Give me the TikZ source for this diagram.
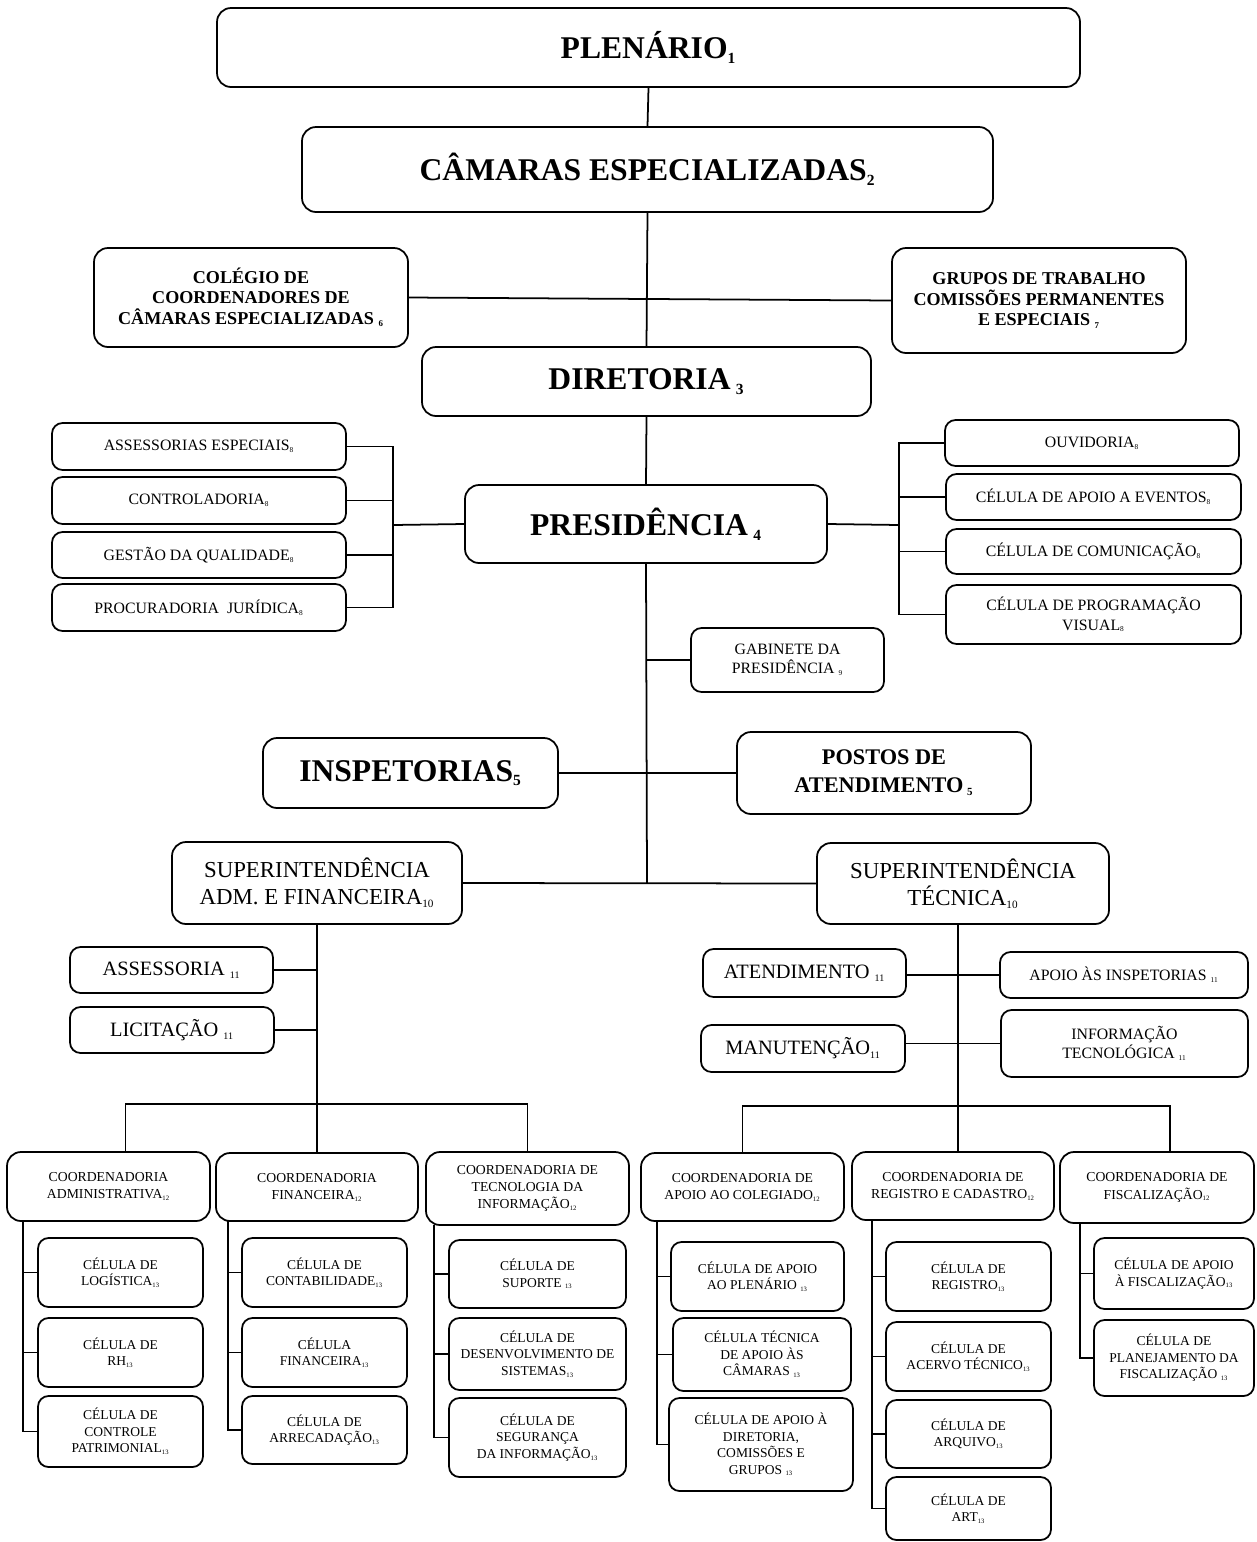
\documentclass[tikz,border=0pt]{standalone}
\usepackage{fontspec}
\setmainfont{Liberation Serif}
\usetikzlibrary{calc}

\newcommand{\nr}[1]{\textsubscript{\scalebox{0.7}{#1}}}
\newcommand{\drawCaixa}[5]{
	\path let
		\p1 = (#3), \p2 = (#4)
		in
		node[#2, minimum width={\x2-\x1}, minimum height={\y1-\y2}] (#1)
			at ({(\x1+\x2)/2}, {(\y1+\y2)/2}) {#5};
}
\newcommand{\drawRamo}[2]{
	\draw[linha] (#1) -- (#1 -| #2);
}

\tikzset{
	caixa/.style={draw, line width=1pt, rounded corners=6pt, inner sep=0pt, align=center},
	grande/.style={caixa, rounded corners=8pt, font=\bfseries\fontsize{18}{21}\selectfont},
	media/.style={caixa, rounded corners=8pt, font=\bfseries\fontsize{10.3}{11.5}\selectfont},
	destaque/.style={caixa, rounded corners=8pt, font=\bfseries\fontsize{12.7}{16}\selectfont},
	superint/.style={caixa, rounded corners=8pt, font=\fontsize{13}{15.5}\selectfont},
	secao/.style={caixa, font=\fontsize{11.6}{13}\selectfont},
	pequena/.style={caixa, font=\fontsize{9}{11}\selectfont},
	coord/.style={caixa, rounded corners=8pt, font=\fontsize{7.8}{9.8}\selectfont},
	celula/.style={caixa, font=\fontsize{7.7}{9.4}\selectfont},
	linha/.style={line width=1pt},
}

\begin{document}
\begin{tikzpicture}[x=0.02cm, y=-0.02cm]
	\useasboundingbox (0,0) rectangle (1257,1542);

	% topo
	\drawCaixa{plenario}{grande}{217,8}{1080,87}{PLENÁRIO\nr{1}}
	\drawCaixa{camaras}{grande}{302,127}{993,212}{CÂMARAS ESPECIALIZADAS\nr{2}}
	\drawCaixa{colegio}{media}{94,248}{408,347}{COLÉGIO DE\\COORDENADORES DE\\CÂMARAS ESPECIALIZADAS \nr{6}}
	\drawCaixa{grupos}{media}{892,248}{1186,353}{GRUPOS DE TRABALHO\\COMISSÕES PERMANENTES\\E ESPECIAIS \nr{7}}
	\drawCaixa{diretoria}{grande}{422,347}{871,416}{DIRETORIA\,\nr{3}}
	\drawCaixa{presid}{grande}{465,485}{827,563}{PRESIDÊNCIA\,\nr{4}}

	% assessorias da presidencia
	\drawCaixa{assesp}{pequena}{52,423}{346,470}{ASSESSORIAS ESPECIAIS\nr{8}}
	\drawCaixa{ctrl}{pequena}{52,477}{346,524}{CONTROLADORIA\nr{8}}
	\drawCaixa{gestao}{pequena}{52,532}{346,578}{GESTÃO DA QUALIDADE\nr{8}}
	\drawCaixa{procjur}{pequena}{52,584}{346,631}{PROCURADORIA\ \ JURÍDICA\nr{8}}
	\drawCaixa{ouvid}{pequena}{945,420}{1239,466}{OUVIDORIA\nr{8}}
	\drawCaixa{eventos}{pequena}{946,474}{1241,520}{CÉLULA DE APOIO A EVENTOS\nr{8}}
	\drawCaixa{comunic}{pequena}{946,529}{1241,574}{CÉLULA DE COMUNICAÇÃO\nr{8}}
	\drawCaixa{progvis}{pequena}{946,585}{1241,644}{CÉLULA DE PROGRAMAÇÃO\\VISUAL\nr{8}}
	\drawCaixa{gabinete}{pequena}{691,628}{884,692}{GABINETE DA\\PRESIDÊNCIA \nr{9}}

	\drawCaixa{inspet}{grande}{263,738}{558,808}{INSPETORIAS\nr{5}}
	\drawCaixa{postos}{destaque}{737,732}{1031,814}{POSTOS DE\\ATENDIMENTO\,\nr{5}}
	\drawCaixa{supadm}{superint}{172,842}{462,924}{SUPERINTENDÊNCIA\\ADM. E FINANCEIRA\nr{10}}
	\drawCaixa{suptec}{superint}{817,843}{1109,924}{SUPERINTENDÊNCIA\\TÉCNICA\nr{10}}

	% superintendencias
	\drawCaixa{assessoria}{secao}{70,947}{273,993}{ASSESSORIA \nr{11}}
	\drawCaixa{licit}{secao}{70,1007}{274,1053}{LICITAÇÃO \nr{11}}
	\drawCaixa{atend}{secao}{703,949}{906,997}{ATENDIMENTO \nr{11}}
	\drawCaixa{apoioinsp}{pequena}{1000,952}{1248,998}{APOIO ÀS INSPETORIAS \nr{11}}
	\drawCaixa{manut}{secao}{701,1025}{905,1072}{MANUTENÇÃO\nr{11}}
	\drawCaixa{infotec}{pequena}{1001,1010}{1248,1077}{INFORMAÇÃO\\TECNOLÓGICA \nr{11}}

	% coordenadorias
	\drawCaixa{coordadm}{coord}{7,1152}{210,1221}{COORDENADORIA\\ADMINISTRATIVA\nr{12}}
	\drawCaixa{coordfin}{coord}{216,1153}{418,1221}{COORDENADORIA\\FINANCEIRA\nr{12}}
	\drawCaixa{coordti}{coord}{426,1152}{629,1225}{COORDENADORIA DE\\TECNOLOGIA DA\\INFORMAÇÃO\nr{12}}
	\drawCaixa{coordcol}{coord}{641,1153}{844,1221}{COORDENADORIA DE\\APOIO AO COLEGIADO\nr{12}}
	\drawCaixa{coordreg}{coord}{852,1152}{1054,1220}{COORDENADORIA DE\\REGISTRO E CADASTRO\nr{12}}
	\drawCaixa{coordfisc}{coord}{1060,1152}{1254,1223}{COORDENADORIA DE\\FISCALIZAÇÃO\nr{12}}

	% celulas
	\drawCaixa{cellog}{celula}{38,1238}{203,1307}{CÉLULA DE\\LOGÍSTICA\nr{13}}
	\drawCaixa{celrh}{celula}{38,1318}{203,1387}{CÉLULA DE\\RH\nr{13}}
	\drawCaixa{celpatr}{celula}{38,1396}{203,1467}{CÉLULA DE\\CONTROLE\\PATRIMONIAL\nr{13}}
	\drawCaixa{celcont}{celula}{242,1238}{407,1307}{CÉLULA DE\\CONTABILIDADE\nr{13}}
	\drawCaixa{celfin}{celula}{242,1318}{407,1387}{CÉLULA\\FINANCEIRA\nr{13}}
	\drawCaixa{celarrec}{celula}{242,1396}{407,1464}{CÉLULA DE\\ARRECADAÇÃO\nr{13}}
	\drawCaixa{celsup}{celula}{449,1240}{626,1308}{CÉLULA DE\\SUPORTE \nr{13}}
	\drawCaixa{celdes}{celula}{449,1318}{626,1390}{CÉLULA DE\\DESENVOLVIMENTO DE\\SISTEMAS\nr{13}}
	\drawCaixa{celseg}{celula}{449,1398}{626,1477}{CÉLULA DE\\SEGURANÇA\\DA INFORMAÇÃO\nr{13}}
	\drawCaixa{celplen}{celula}{671,1242}{844,1311}{CÉLULA DE APOIO\\AO PLENÁRIO \nr{13}}
	\drawCaixa{celtec}{celula}{673,1318}{851,1391}{CÉLULA TÉCNICA\\DE APOIO ÀS\\CÂMARAS \nr{13}}
	\drawCaixa{celdir}{celula}{669,1398}{853,1491}{CÉLULA DE APOIO À\\DIRETORIA,\\COMISSÕES E\\GRUPOS \nr{13}}
	\drawCaixa{celreg}{celula}{886,1242}{1051,1311}{CÉLULA DE\\REGISTRO\nr{13}}
	\drawCaixa{celacer}{celula}{886,1322}{1051,1391}{CÉLULA DE\\ACERVO TÉCNICO\nr{13}}
	\drawCaixa{celarq}{celula}{886,1400}{1051,1468}{CÉLULA DE\\ARQUIVO\nr{13}}
	\drawCaixa{celart}{celula}{886,1477}{1051,1540}{CÉLULA DE\\ART\nr{13}}
	\drawCaixa{celapfisc}{celula}{1094,1238}{1254,1309}{CÉLULA DE APOIO\\À FISCALIZAÇÃO\nr{13}}
	\drawCaixa{celplan}{celula}{1094,1320}{1254,1396}{CÉLULA DE\\PLANEJAMENTO DA\\FISCALIZAÇÃO \nr{13}}

	% ligacoes
	\coordinate (juncao) at (647,883);
	\coordinate (chaveE) at (393,525);
	\coordinate (chaveD) at (899,525);
	\draw[linha] (plenario.south) -- (camaras.north);
	\draw[linha] (camaras.south) -- (diretoria.north);
	\draw[linha] (colegio.east) -- (grupos.west);
	\draw[linha] (diretoria.south) -- (presid.north);
	\draw[linha] (presid.south) -- (juncao);
	\draw[linha] (assesp.east) -| (chaveE) |- (procjur.east);
	\drawRamo{ctrl.east}{chaveE}
	\drawRamo{gestao.east}{chaveE}
	\draw[linha] (presid.west) -- (chaveE);
	\draw[linha] (ouvid.west) -| (chaveD) |- (progvis.west);
	\drawRamo{eventos.west}{chaveD}
	\drawRamo{comunic.west}{chaveD}
	\draw[linha] (presid.east) -- (chaveD);
	\drawRamo{gabinete.west}{juncao}
	\draw[linha] (inspet.east) -- (postos.west);
	\draw[linha] (supadm.east) -- (suptec.west);

	\coordinate (admbarra) at (317,1104);
	\draw[linha] (supadm.south) -- (admbarra);
	\drawRamo{assessoria.east}{admbarra}
	\drawRamo{licit.east}{admbarra}
	\draw[linha] ([xshift=0.34cm]coordadm.north) |- (admbarra) -| (coordti.north);
	\draw[linha] (admbarra) -- (coordfin.north);

	\coordinate (tecbarra) at (958,1106);
	\draw[linha] (suptec.south -| tecbarra) -- (tecbarra);
	\draw[linha] (atend.east |- apoioinsp.west) -- (apoioinsp.west);
	\draw[linha] (manut.east |- infotec.west) -- (infotec.west);
	\draw[linha] (coordcol.north) |- (tecbarra) -| ([xshift=0.26cm]coordfisc.north);
	\draw[linha] (tecbarra) -- (coordreg.north -| tecbarra);

	% colunas das celulas
	\coordinate (colA) at (23,1221);
	\coordinate (colB) at (228,1221);
	\coordinate (colC) at (434,1225);
	\coordinate (colD) at (657,1221);
	\coordinate (colE) at (872,1220);
	\coordinate (colF) at (1080,1223);
	\draw[linha] (colA) |- (celpatr.west);
	\draw[linha] (colB) |- (celarrec.west);
	\draw[linha] (colC) |- (celseg.west);
	\draw[linha] (colD) |- (celdir.west);
	\draw[linha] (colE) |- (celart.west);
	\draw[linha] (colF) |- (celplan.west);
	\foreach \c in {cellog, celrh} {\drawRamo{\c.west}{colA}}
	\foreach \c in {celcont, celfin} {\drawRamo{\c.west}{colB}}
	\foreach \c in {celsup, celdes} {\drawRamo{\c.west}{colC}}
	\foreach \c in {celplen, celtec} {\drawRamo{\c.west}{colD}}
	\foreach \c in {celreg, celacer, celarq} {\drawRamo{\c.west}{colE}}
	\drawRamo{celapfisc.west}{colF}
\end{tikzpicture}
\end{document}
